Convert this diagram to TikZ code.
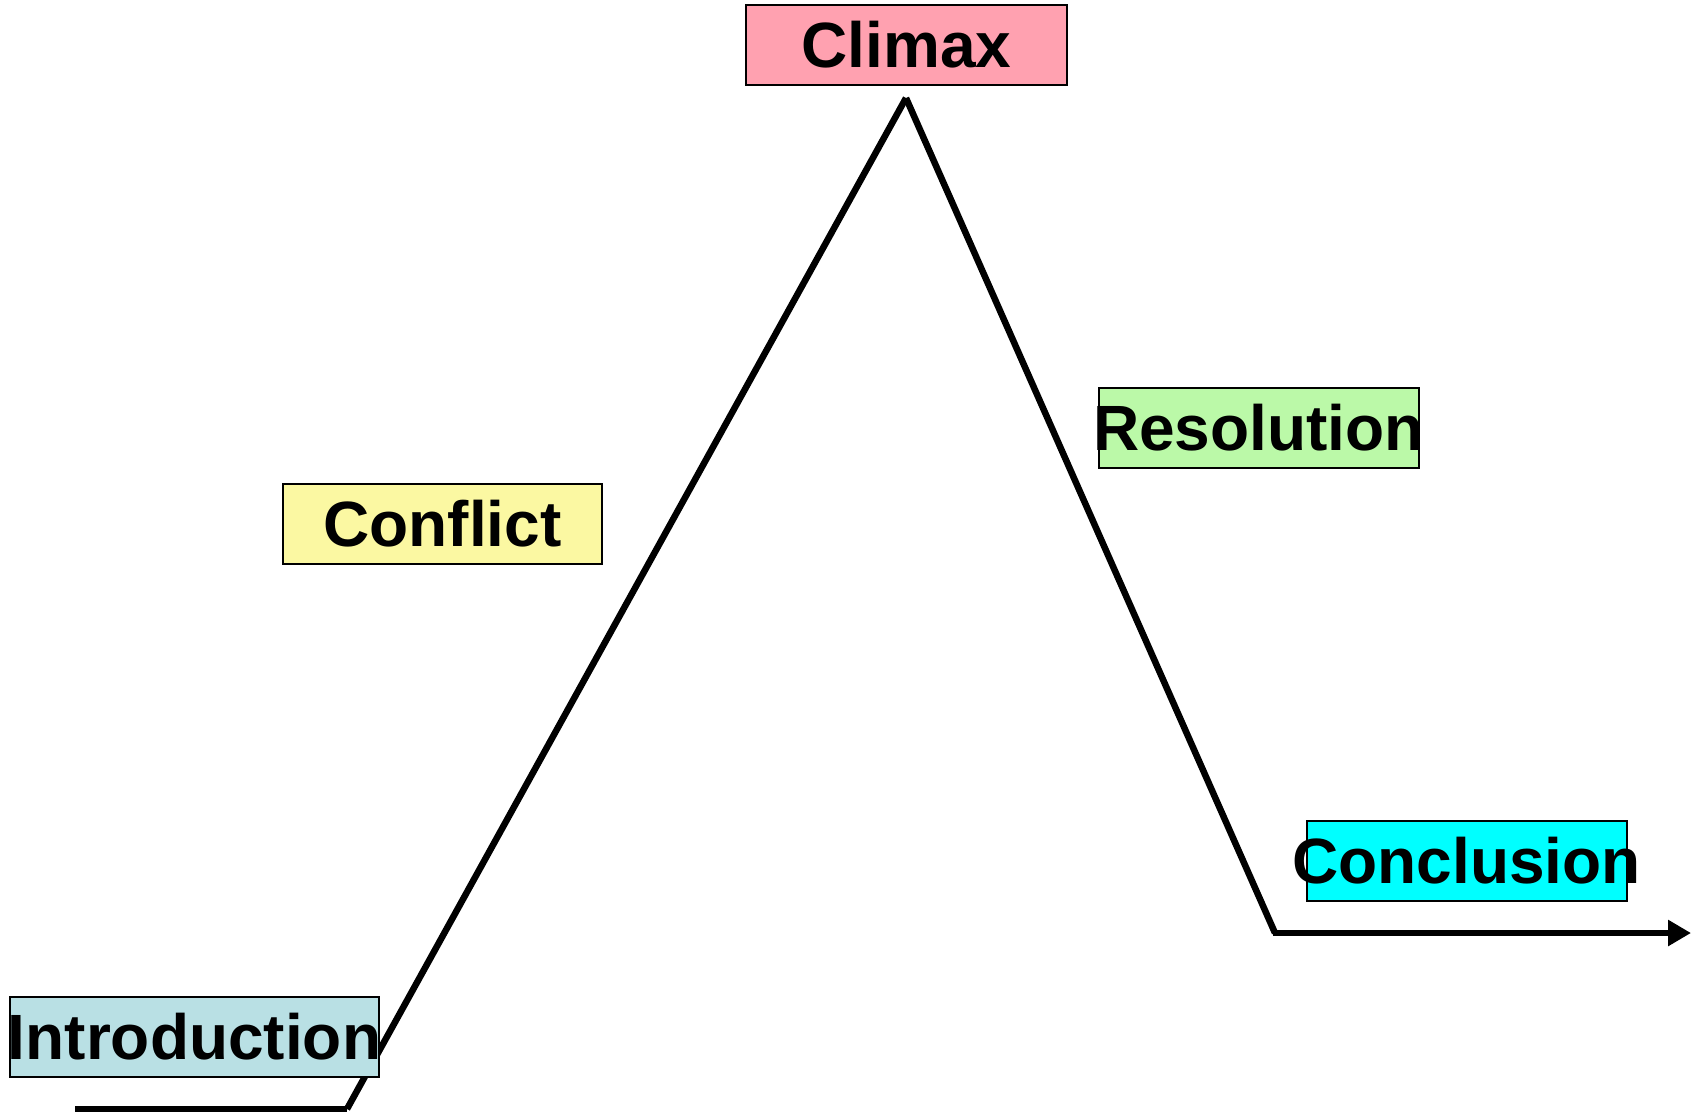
\documentclass[tikz,border=0pt]{standalone}
\usepackage{fontspec}
\setmainfont{Liberation Sans}
\usetikzlibrary{arrows.meta}
\definecolor{climaxc}{RGB}{255,161,176}
\definecolor{introc}{RGB}{185,224,228}
\definecolor{conflictc}{RGB}{251,248,162}
\definecolor{resolc}{RGB}{187,249,168}
\definecolor{conclc}{RGB}{0,255,255}
\tikzset{
  stagebox/.style={draw=black, line width=2pt, inner sep=0pt,
    minimum width=320pt, minimum height=80pt,
    text height=45pt, text depth=0pt,
    font=\fontsize{64}{64}\selectfont\bfseries},
  plotline/.style={line width=6.5pt, line cap=butt},
}
\newcommand{\boxtext}[1]{\makebox[0pt][c]{#1}}
\begin{document}
\begin{tikzpicture}[x=1pt,y=-1pt]
\useasboundingbox (0,0) rectangle (1691,1114);
\fill[white] (0,0) rectangle (1691,1114);
% stage labels
\node[stagebox, fill=climaxc, minimum width=321pt] (climax) at (906.5,44.5) {\boxtext{Climax}};
\node[stagebox, fill=conflictc, minimum width=319pt] (conflict) at (442.5,524) {\boxtext{Conflict}};
\node[stagebox, fill=resolc, minimum width=320pt] (resol) at (1258.5,428) {\boxtext{Resolution}};
\node[stagebox, fill=conclc, minimum width=320pt] (concl) at (1466.5,861) {\boxtext{Conclusion}};
% plot line points
\coordinate (start) at (75,1109);
\coordinate (low) at (347,1109);
\coordinate (peak) at (906,98);
\coordinate (down) at (1275,933);
\coordinate (endpt) at (1691,933);
\draw[plotline] (start) -- (low);
\draw[plotline] (low) -- (peak);
\draw[plotline] (peak) -- (down);
\draw[plotline, -{Triangle[length=23pt,width=25pt]}] ([xshift=-2pt]down) -- (endpt);
\node[stagebox, fill=introc, minimum width=369pt] (intro) at (194.5,1036.5) {\boxtext{Introduction}};
\end{tikzpicture}
\end{document}
